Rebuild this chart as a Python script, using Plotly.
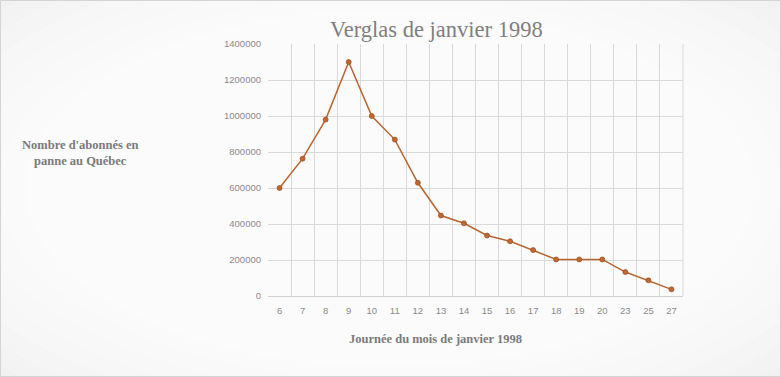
import plotly.graph_objects as go

days = ["6", "7", "8", "9", "10", "11", "12", "13", "14", "15", "16", "17", "18", "19", "20", "23", "25", "27"]
abonnes = [600000, 763000, 980000, 1300000, 1000000, 869000, 629000, 447000, 404000, 336000, 304000, 255000, 203000, 203000, 203000, 133000, 87000, 37000]
y_ticks = [0, 200000, 400000, 600000, 800000, 1000000, 1200000, 1400000]

W, H = 781, 377
L, R, T, B = 268, 98, 44, 81
PW, PH = W - L - R, H - T - B


def px_x(x):
    return (x - L) / PW


def px_y(y):
    return (H - B - y) / PH


fig = go.Figure()
fig.add_trace(go.Scatter(
    x=days, y=abonnes, mode="lines+markers",
    line=dict(color="#b8642e", width=1.5),
    marker=dict(color="#c0682f", size=5, line=dict(color="#9a4e1f", width=0.7)),
    hoverinfo="x+y", showlegend=False,
))

# soft radial background (vignette) built from translucent ellipses
shapes = []
cx, cy = 390, 188
n = 14
for i in range(n):
    s = 1.0 - i * (0.65 / (n - 1))
    rx, ry = 560 * s, 275 * s
    shapes.append(dict(type="circle", xref="paper", yref="paper",
                       x0=px_x(cx - rx), x1=px_x(cx + rx), y0=px_y(cy + ry), y1=px_y(cy - ry),
                       fillcolor="rgba(255,255,255,0.19)", line=dict(width=0), layer="below"))
shapes.append(dict(type="line", xref="paper", yref="paper", x0=1, x1=1, y0=0, y1=1,
                   line=dict(color="#d9d9d9", width=1)))
shapes.append(dict(type="rect", xref="paper", yref="paper",
                   x0=px_x(0.5), x1=px_x(W - 0.5), y0=px_y(H - 0.5), y1=px_y(0.5),
                   line=dict(color="#d4d4d4", width=1), layer="above"))

tick_font = dict(family="Liberation Sans Narrow, Liberation Sans, sans-serif", size=9.5, color="#8a8a8a")
fig.update_layout(
    width=W, height=H,
    margin=dict(l=L, r=R, t=T, b=B),
    paper_bgcolor="#eeeeee",
    plot_bgcolor="rgba(0,0,0,0)",
    xaxis=dict(
        type="category", tickson="boundaries", range=[-0.5, len(days) - 0.5],
        showgrid=True, gridcolor="#d9d9d9", gridwidth=1,
        showline=True, linecolor="#d0d0d0", ticks="", tickfont=tick_font, ticklabelstandoff=6,
        zeroline=False,
    ),
    yaxis=dict(
        range=[0, 1400000], tickvals=y_ticks, ticktext=[str(v) for v in y_ticks],
        showgrid=True, gridcolor="#d9d9d9", gridwidth=1, zeroline=False,
        showline=False, ticks="", tickfont=tick_font, ticklabelstandoff=6,
    ),
    shapes=shapes,
    annotations=[
        dict(text="Verglas de janvier 1998", xref="paper", yref="paper",
             x=px_x(436), y=px_y(30), showarrow=False,
             font=dict(family="Liberation Serif, DejaVu Serif, serif", size=22.5, color="#7f7f7f"),
             xanchor="center", yanchor="middle"),
        dict(text="<b>Nombre d'abonnés en<br>panne au Québec</b>", xref="paper", yref="paper",
             x=px_x(80), y=px_y(153), showarrow=False,
             font=dict(family="Liberation Serif, DejaVu Serif, serif", size=12.5, color="#7a7a7a"),
             xanchor="center", yanchor="middle", align="center"),
        dict(text="<b>Journée du mois de janvier 1998</b>", xref="paper", yref="paper",
             x=px_x(435), y=px_y(339), showarrow=False,
             font=dict(family="Liberation Serif, DejaVu Serif, serif", size=12.5, color="#7a7a7a"),
             xanchor="center", yanchor="middle"),
    ],
)

fig.write_html("out.html", config={"displayModeBar": False},
               post_script="document.body.style.margin='0';document.body.style.overflow='hidden';")
